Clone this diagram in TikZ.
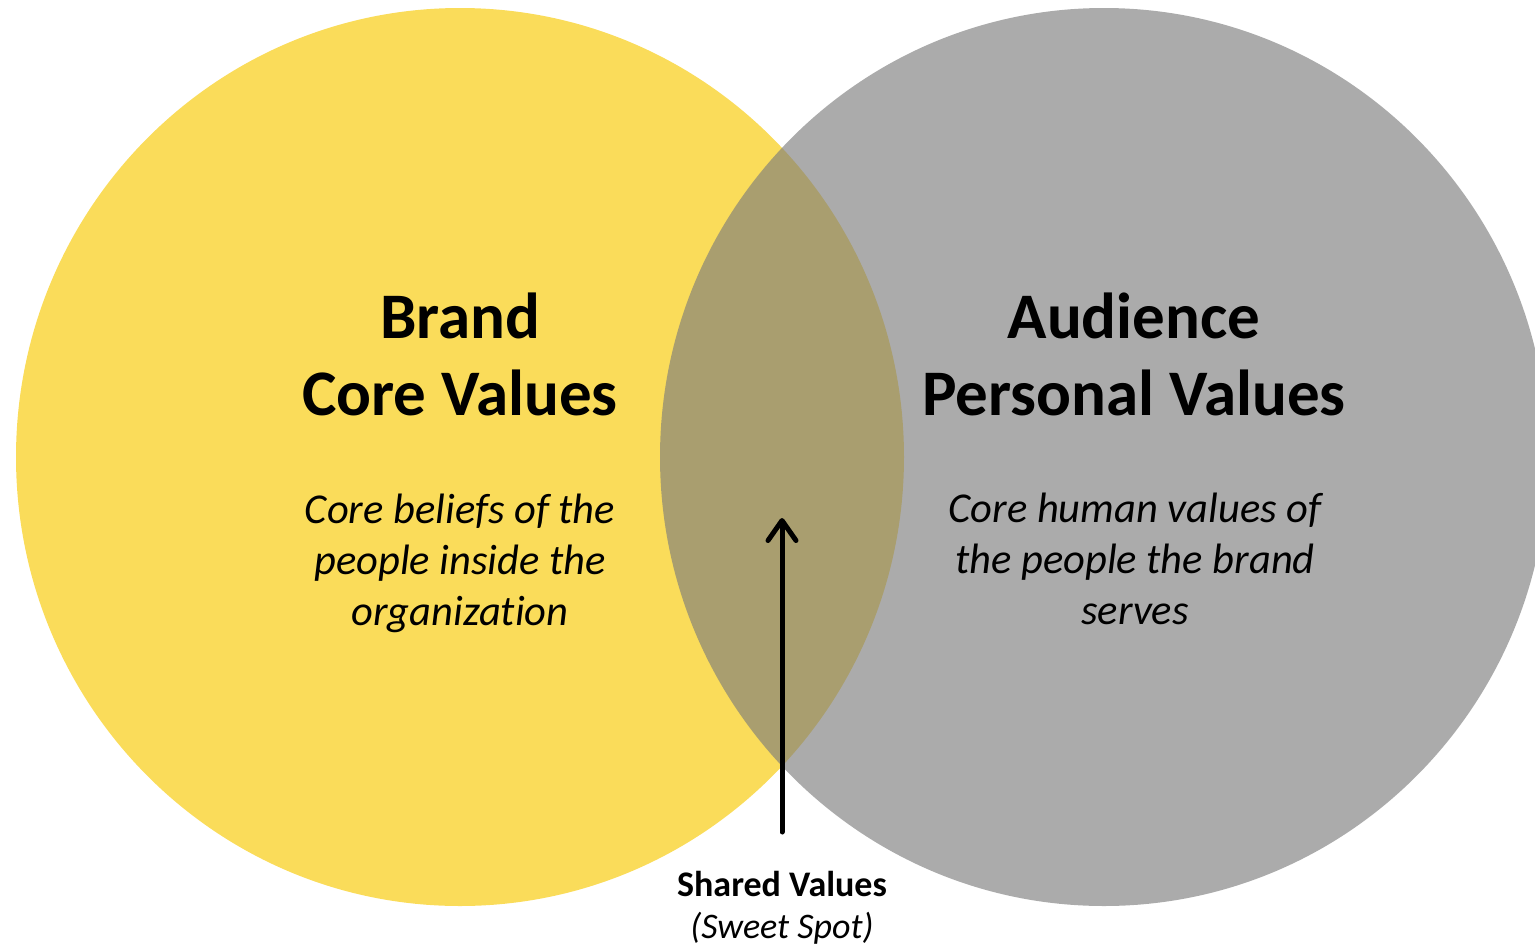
\documentclass[tikz,border=0pt]{standalone}
\usepackage{fontspec}
\setmainfont[Ligatures=NoCommon]{Carlito}
\usetikzlibrary{arrows.meta}
\definecolor{venyellow}{RGB}{250,220,90}
\definecolor{vengray}{RGB}{124,124,124}
\tikzset{
  titletext/.style={font=\fontsize{65}{77}\selectfont\bfseries, align=center, inner sep=0pt},
  desctext/.style={font=\fontsize{42.5}{51}\selectfont\itshape, align=center, inner sep=0pt},
  labeltext/.style={font=\fontsize{36}{42}\selectfont, align=center, inner sep=0pt},
  pointer/.style={line width=5pt, line cap=round, -{Straight Barb[length=20pt, width=28pt, line cap=round, line join=round]}}
}
\begin{document}
\begin{tikzpicture}[x=1pt,y=-1pt]
\useasboundingbox (0,0) rectangle (1535,946);
\clip (0,0) rectangle (1535,946);
\fill[venyellow] (460,457) ellipse [x radius=444pt, y radius=449pt];
\fill[vengray, fill opacity=0.64] (1104,457) ellipse [x radius=444pt, y radius=449pt];
\node[titletext] (brand) at (460,354) {Brand\\Core Values};
\node[titletext] (audience) at (1134,354) {Audience\\Personal Values};
\node[desctext] (branddesc) at (460,563) {Core beliefs of the\\people inside the\\organization};
\node[desctext] (audiencedesc) at (1135,559) {Core human values of\\the people the brand\\serves};
\node[labeltext] (shared) at (782,908) {\textbf{Shared Values}\\\textit{(Sweet Spot)}};
\coordinate (arrowstart) at (782,832);
\coordinate (arrowend) at (782,518);
\draw[pointer] (arrowstart) -- (arrowend);
\end{tikzpicture}
\end{document}
